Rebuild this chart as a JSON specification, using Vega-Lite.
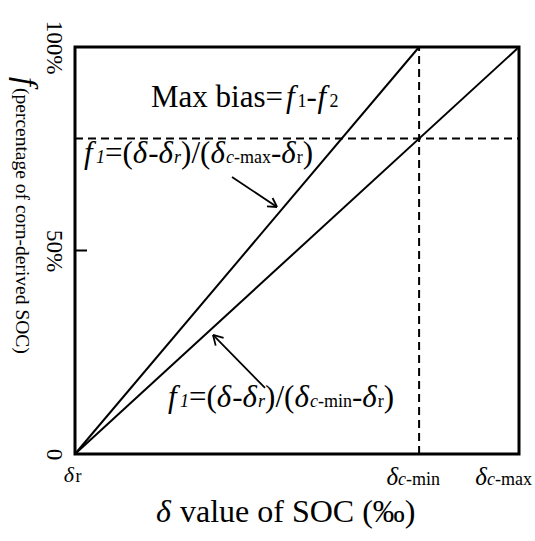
{
  "$schema": "https://vega.github.io/schema/vega-lite/v6.json",
  "width": 444,
  "height": 407,
  "autosize": "none",
  "padding": {"left": 75, "top": 47, "right": 16, "bottom": 87},
  "background": "white",
  "config": {
    "view": {"stroke": "black", "strokeWidth": 3},
    "text": {"font": "Liberation Serif", "color": "black"}
  },
  "datasets": {
    "lines": [{"x": 0, "y": 0, "x2": 77.5, "y2": 100}, {"x": 0, "y": 0, "x2": 100, "y2": 100}],
    "dashed": [{"x": 77.5, "y": 0, "x2": 77.5, "y2": 100}, {"x": 0, "y": 77.5, "x2": 100, "y2": 77.5}],
    "tick": [{"x": 0, "y": 50, "x2": 2.7, "y2": 50}],
    "arrows": [
      {"x": 35.36, "y": 68.06, "x2": 45.5, "y2": 60.69},
      {"x": 45.5, "y": 60.69, "x2": 44.5, "y2": 62.9},
      {"x": 45.5, "y": 60.69, "x2": 43.24, "y2": 60.85},
      {"x": 42.79, "y": 16.22, "x2": 31.08, "y2": 29.24},
      {"x": 31.08, "y": 29.24, "x2": 31.69, "y2": 26.63},
      {"x": 31.08, "y": 29.24, "x2": 33.47, "y2": 28.53}
    ],
    "bigUp": [
      {"x": 17.12, "y": 85.3, "t": "Max bias="},
      {"x": 52.14, "y": 85.3, "t": "-"},
      {"x": 6.76, "y": 71.5, "t": "=("},
      {"x": 16.51, "y": 71.5, "t": "-"},
      {"x": 23.9, "y": 71.5, "t": ")/("},
      {"x": 44.12, "y": 71.5, "t": "-"},
      {"x": 51.28, "y": 71.5, "t": ")"},
      {"x": 25.68, "y": 11.55, "t": "=("},
      {"x": 35.43, "y": 11.55, "t": "-"},
      {"x": 42.82, "y": 11.55, "t": ")/("},
      {"x": 62.36, "y": 11.55, "t": "-"},
      {"x": 69.53, "y": 11.55, "t": ")"}
    ],
    "bigIt": [
      {"x": 47.52, "y": 85.3, "t": "f"},
      {"x": 54.62, "y": 85.3, "t": "f"},
      {"x": 2.03, "y": 71.5, "t": "f"},
      {"x": 13.02, "y": 71.5, "t": "δ"},
      {"x": 18.83, "y": 71.5, "t": "δ"},
      {"x": 30.5, "y": 71.5, "t": "δ"},
      {"x": 46.44, "y": 71.5, "t": "δ"},
      {"x": 20.95, "y": 11.55, "t": "f"},
      {"x": 31.94, "y": 11.55, "t": "δ"},
      {"x": 37.75, "y": 11.55, "t": "δ"},
      {"x": 49.41, "y": 11.55, "t": "δ"},
      {"x": 64.68, "y": 11.55, "t": "δ"}
    ],
    "smallIt": [
      {"x": 4.73, "y": 71.5, "t": "1"},
      {"x": 22.32, "y": 71.5, "t": "r"},
      {"x": 33.99, "y": 71.5, "t": "c"},
      {"x": 23.65, "y": 11.55, "t": "1"},
      {"x": 41.24, "y": 11.55, "t": "r"},
      {"x": 52.91, "y": 11.55, "t": "c"},
      {"x": 72.75, "y": -7.62, "t": "c"},
      {"x": 92.79, "y": -7.62, "t": "c"}
    ],
    "smallUp": [
      {"x": 50.11, "y": 85.3, "t": "1"},
      {"x": 57.32, "y": 85.3, "t": "2"},
      {"x": 35.79, "y": 71.5, "t": "-max"},
      {"x": 49.93, "y": 71.5, "t": "r"},
      {"x": 54.71, "y": 11.55, "t": "-min"},
      {"x": 68.18, "y": 11.55, "t": "r"},
      {"x": 0.1, "y": -6.88, "t": "r"},
      {"x": 74.55, "y": -7.62, "t": "-min"},
      {"x": 94.59, "y": -7.62, "t": "-max"}
    ],
    "deltaR": [{"x": -0.23, "y": -6.88, "t": "δ"}],
    "deltaC": [{"x": 72.75, "y": -7.62, "t": "δ"}, {"x": 92.79, "y": -7.62, "t": "δ"}],
    "xTitleIt": [{"x": 21.62, "y": -16.71, "t": "δ"}],
    "xTitleUp": [{"x": 23.65, "y": -16.71, "t": "value of SOC (‰)"}],
    "yTitleIt": [{"x": -13.29, "y": 92.6, "t": "f"}],
    "yTitleUp": [{"x": -13.29, "y": 89.93, "t": "(percentage of corn-derived SOC)"}]
  },
  "encoding": {
    "x": {"field": "x", "type": "quantitative", "scale": {"domain": [0, 100], "nice": false, "zero": false}, "axis": null},
    "y": {
      "field": "y", "type": "quantitative",
      "scale": {"domain": [0, 100], "nice": false, "zero": false},
      "axis": {
        "values": [0, 50, 100],
        "labelExpr": "datum.value == 100 ? '100%' : (datum.value == 50 ? '50%' : '0')",
        "title": null, "grid": false, "domain": false, "ticks": false, "tickSize": 0,
        "labelAngle": 90, "labelAlign": "center", "labelBaseline": "middle", "labelPadding": 22,
        "labelFont": "Liberation Serif", "labelFontSize": 23, "labelColor": "black",
        "labelFlush": false, "labelOverlap": false
      }
    }
  },
  "layer": [
    {"data": {"name": "lines"}, "mark": {"type": "rule", "color": "black", "strokeWidth": 2}, "encoding": {"x2": {"field": "x2"}, "y2": {"field": "y2"}}},
    {"data": {"name": "dashed"}, "mark": {"type": "rule", "color": "black", "strokeWidth": 2, "strokeDash": [8, 5]}, "encoding": {"x2": {"field": "x2"}, "y2": {"field": "y2"}}},
    {"data": {"name": "tick"}, "mark": {"type": "rule", "color": "black", "strokeWidth": 2}, "encoding": {"x2": {"field": "x2"}, "y2": {"field": "y2"}}},
    {"data": {"name": "arrows"}, "mark": {"type": "rule", "color": "black", "strokeWidth": 1.8}, "encoding": {"x2": {"field": "x2"}, "y2": {"field": "y2"}}},
    {"data": {"name": "bigUp"}, "mark": {"type": "text", "align": "left", "baseline": "alphabetic", "fontSize": 31}, "encoding": {"text": {"field": "t"}}},
    {"data": {"name": "bigIt"}, "mark": {"type": "text", "align": "left", "baseline": "alphabetic", "fontSize": 31, "fontStyle": "italic"}, "encoding": {"text": {"field": "t"}}},
    {"data": {"name": "smallIt"}, "mark": {"type": "text", "align": "left", "baseline": "alphabetic", "fontSize": 18, "fontStyle": "italic"}, "encoding": {"text": {"field": "t"}}},
    {"data": {"name": "smallUp"}, "mark": {"type": "text", "align": "left", "baseline": "alphabetic", "fontSize": 18}, "encoding": {"text": {"field": "t"}}},
    {"data": {"name": "deltaR"}, "mark": {"type": "text", "align": "right", "baseline": "alphabetic", "fontSize": 22, "fontStyle": "italic"}, "encoding": {"text": {"field": "t"}}},
    {"data": {"name": "deltaC"}, "mark": {"type": "text", "align": "right", "baseline": "alphabetic", "fontSize": 25, "fontStyle": "italic"}, "encoding": {"text": {"field": "t"}}},
    {"data": {"name": "xTitleIt"}, "mark": {"type": "text", "align": "right", "baseline": "alphabetic", "fontSize": 32, "fontStyle": "italic"}, "encoding": {"text": {"field": "t"}}},
    {"data": {"name": "xTitleUp"}, "mark": {"type": "text", "align": "left", "baseline": "alphabetic", "fontSize": 32}, "encoding": {"text": {"field": "t"}}},
    {"data": {"name": "yTitleIt"}, "mark": {"type": "text", "align": "left", "baseline": "alphabetic", "fontSize": 32, "fontStyle": "italic", "angle": 90}, "encoding": {"text": {"field": "t"}}},
    {"data": {"name": "yTitleUp"}, "mark": {"type": "text", "align": "left", "baseline": "alphabetic", "fontSize": 19.5, "angle": 90}, "encoding": {"text": {"field": "t"}}}
  ]
}
